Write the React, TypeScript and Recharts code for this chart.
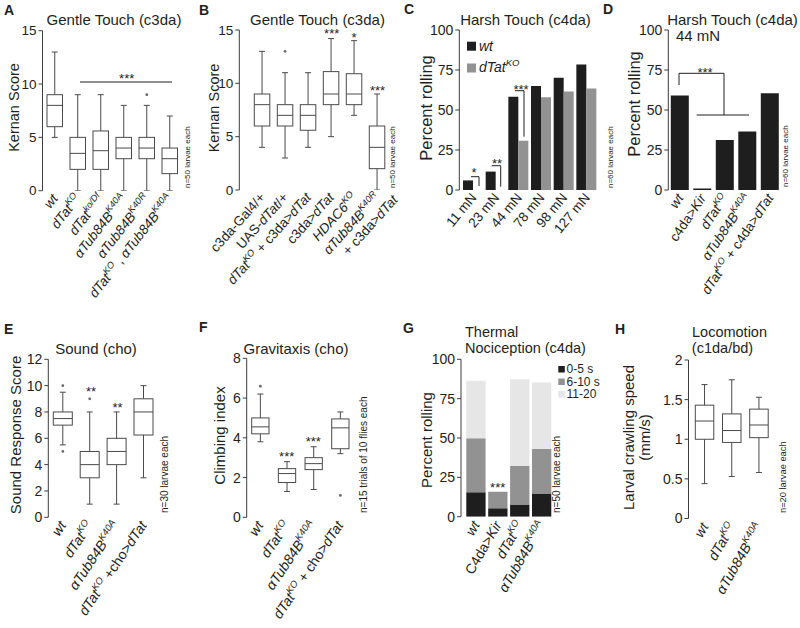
import React from 'react';
import { ComposedChart, BarChart, Bar, XAxis, YAxis } from 'recharts';

const FONT = '"Liberation Sans", Arial, Helvetica, sans-serif';
const INK = '#231f20';
const AXIS = '#3c3c3c';
const BOXC = '#4a4a4a';
const BLACK = '#1e1e1e';
const GRAY = '#929292';
const LIGHT = '#e6e6e6';

// ---------------- data ----------------
// box stats: [min, q1, median, q3, max]
const A_CATS = ['wt', 'dTatKO', 'dTatKO/Df', 'αTub84BK40A', 'αTub84BK40R', 'dTatKO, αTub84BK40A'];
const A_STATS = [[5, 6, 8, 9, 13], [0, 2, 3.5, 5, 9], [0, 2, 3.75, 5.6, 9], [0, 3, 4, 5, 8], [0, 3, 4, 5, 8], [0, 1.6, 3, 4, 7]];
const A_OUT = [[], [], [], [], [9], []];
const KERNAN_TICKS = [0, 5, 10, 15];

const B_CATS = ['c3da-Gal4/+', 'UAS-dTat/+', 'dTatKO + c3da>dTat', 'c3da>dTat', 'HDAC6KO', 'αTub84BK40R + c3da>dTat'];
const B_STATS = [[4, 6, 8, 9, 13], [3, 6, 7, 8, 11], [4, 5.6, 7, 8, 11], [5, 8, 9, 11.1, 14.2], [7, 8, 9, 10.9, 14], [0, 2, 4, 6, 9]];
const B_OUT = [[], [13], [], [], [], []];

const C_CATS = ['11 mN', '23 mN', '44 mN', '78 mN', '98 mN', '127 mN'];
const C_WT = [6, 11.5, 58.3, 65, 70.2, 78.5];
const C_KO = [0, 0, 30.8, 57.9, 61.5, 63.5];
const PCT_TICKS = [0, 25, 50, 75, 100];

const D_CATS = ['wt', 'c4da>Kir', 'dTatKO', 'αTub84BK40A', 'dTatKO + c4da>dTat'];
const D_VALUES = [59, 1, 31.2, 36.5, 60.4];

const E_CATS = ['wt', 'dTatKO', 'αTub84BK40A', 'dTatKO +cho>dTat'];
const E_STATS = [[5.5, 7, 7.5, 8, 9.5], [1, 3, 4, 5, 8], [1, 4, 5, 6, 8], [3, 6.25, 8, 9, 10]];
const E_OUT = [[10, 5], [9], [], []];
const E_TICKS = [0, 2, 4, 6, 8, 10, 12];

const F_CATS = ['wt', 'dTatKO', 'αTub84BK40A', 'dTatKO + cho>dTat'];
const F_STATS = [[3.8, 4.2, 4.55, 5, 6.2], [1.3, 1.75, 2.2, 2.45, 2.8], [1.4, 2.4, 2.7, 3, 3.55], [3.2, 3.45, 4.5, 4.95, 5.3]];
const F_OUT = [[6.6], [], [], [1.1]];
const F_TICKS = [0, 2, 4, 6, 8];

const G_CATS = ['wt', 'C4da>Kir', 'dTatKO', 'αTub84BK40A'];
const G_FAST = [15.5, 5.3, 7.8, 14.8]; // 0-5 s
const G_MID = [34.3, 10.6, 24.6, 28.2]; // 6-10 s
const G_SLOW = [36.6, 0, 54.9, 42.2]; // 11-20 s

const H_CATS = ['wt', 'dTatKO', 'αTub84BK40A'];
const H_STATS = [[0.44, 1, 1.23, 1.43, 1.69], [0.53, 0.96, 1.11, 1.32, 1.75], [0.58, 1.02, 1.18, 1.38, 1.53]];
const H_OUT = [[], [], []];
const H_TICKS = [0, 0.5, 1, 1.5, 2];

// tick label markup: lines -> segments [text, style]; i = italic, n = normal, s = superscript
type Seg = [string, string];
const LABELS: Record<string, Seg[][]> = {
  'wt': [[['wt', 'i']]],
  'dTatKO': [[['dTat', 'i'], ['KO', 's']]],
  'dTatKO/Df': [[['dTat', 'i'], ['ko/Df', 's']]],
  'αTub84BK40A': [[['αTub84B', 'i'], ['K40A', 's']]],
  'αTub84BK40R': [[['αTub84B', 'i'], ['K40R', 's']]],
  'dTatKO, αTub84BK40A': [[['dTat', 'i'], ['KO', 's'], [' , ', 'n'], ['αTub84B', 'i'], ['K40A', 's']]],
  'c3da-Gal4/+': [[['c3da-Gal4/+', 'n']]],
  'UAS-dTat/+': [[['UAS-', 'n'], ['dTat', 'i'], ['/+', 'n']]],
  'dTatKO + c3da>dTat': [[['dTat', 'i'], ['KO', 's'], [' + c3da>', 'n'], ['dTat', 'i']]],
  'c3da>dTat': [[['c3da>', 'n'], ['dTat', 'i']]],
  'HDAC6KO': [[['HDAC6', 'i'], ['KO', 's']]],
  'αTub84BK40R + c3da>dTat': [[['αTub84B', 'i'], ['K40R', 's']], [['+ c3da>', 'n'], ['dTat', 'i']]],
  'c4da>Kir': [[['c4da>', 'n'], ['Kir', 'i']]],
  'C4da>Kir': [[['C4da>', 'n'], ['Kir', 'i']]],
  'dTatKO + c4da>dTat': [[['dTat', 'i'], ['KO', 's'], [' + c4da>', 'n'], ['dTat', 'i']]],
  'dTatKO +cho>dTat': [[['dTat', 'i'], ['KO', 's'], [' +cho>', 'n'], ['dTat', 'i']]],
  'dTatKO + cho>dTat': [[['dTat', 'i'], ['KO', 's'], [' + cho>', 'n'], ['dTat', 'i']]],
};

// ---------------- helpers ----------------
function segSpans(segs: Seg[], fs: number) {
  const out: any[] = [];
  let raised = false;
  const shift = fs * 0.4;
  segs.forEach((s, i) => {
    const [t, st] = s;
    if (st === 's') {
      out.push(
        <tspan key={i} fontSize={fs * 0.68} fontStyle="italic" dy={raised ? 0 : -shift}>{t}</tspan>
      );
      raised = true;
    } else {
      out.push(
        <tspan key={i} fontStyle={st === 'i' ? 'italic' : 'normal'} dy={raised ? shift : 0}>{t}</tspan>
      );
      raised = false;
    }
  });
  return out;
}

const makeTick = (angle: number, fs: number, dx: number, dy: number) => (p: any) => {
  const v = String(p.payload.value);
  const lines = LABELS[v] ?? [[[v, 'n']]];
  return (
    <g transform={`translate(${p.x + dx},${p.y + dy}) rotate(${angle})`}>
      {lines.map((segs, li) => (
        <text key={li} x={li * 10} y={li * fs * 1.1} textAnchor="end" fontSize={fs} fontFamily={FONT} fill={INK} style={{ whiteSpace: 'pre' }}>
          {segSpans(segs, fs)}
        </text>
      ))}
    </g>
  );
};

function BoxShape(props: any) {
  const { x, y, width, height, index, rows, cap } = props;
  const d = rows[index];
  if (!d) return null;
  const top = Math.min(y, y + height);
  const bot = Math.max(y, y + height);
  const span = d.max - d.min || 1;
  const py = (v: number) => bot - ((v - d.min) / span) * (bot - top);
  const cx = x + width / 2;
  return (
    <g stroke={BOXC} strokeWidth={1} fill="none">
      <line x1={cx} x2={cx} y1={py(d.max)} y2={py(d.q3)} />
      <line x1={cx} x2={cx} y1={py(d.q1)} y2={py(d.min)} />
      <line x1={cx - cap} x2={cx + cap} y1={py(d.max)} y2={py(d.max)} />
      <line x1={cx - cap} x2={cx + cap} y1={py(d.min)} y2={py(d.min)} />
      <rect x={x} y={py(d.q3)} width={width} height={py(d.q1) - py(d.q3)} fill="#fff" />
      <line x1={x} x2={x + width} y1={py(d.med)} y2={py(d.med)} />
      {d.out.map((v: number, i: number) => (
        <circle key={i} cx={cx} cy={py(v)} r={1.4} fill="#6a6a6a" stroke="none" />
      ))}
    </g>
  );
}

type Frame = {
  left: number; top: number; width: number; height: number;
  axisX: number; yTop: number; y0: number; padL: number; band: number;
  n: number; angle: number; xfs: number; yfs: number;
};

function axesFor(f: Frame, domain: number[], ticks: number[]) {
  const plotRight = f.axisX + f.padL + f.n * f.band;
  const margin = { top: f.yTop - f.top, right: f.left + f.width - plotRight, bottom: 0, left: 0 };
  const xAxis = (
    <XAxis
      dataKey="name"
      type="category"
      axisLine={false}
      tickLine={false}
      tickSize={0}
      tickMargin={0}
      interval={0}
      height={f.top + f.height - f.y0}
      padding={{ left: f.padL, right: 0 }}
      tick={makeTick(f.angle, f.xfs, 4, 8)}
    />
  );
  const yAxis = (
    <YAxis
      type="number"
      domain={domain}
      ticks={ticks}
      interval={0}
      allowDataOverflow
      width={f.axisX - f.left}
      axisLine={{ stroke: AXIS, strokeWidth: 1 }}
      tickLine={{ stroke: AXIS, strokeWidth: 1 }}
      tickSize={4}
      tickMargin={2}
      tick={{ fontSize: f.yfs, fill: INK, fontFamily: FONT }}
    />
  );
  return { margin, xAxis, yAxis };
}

function BoxPanel(props: { f: Frame; cats: string[]; stats: number[][]; outliers: number[][]; domain: number[]; ticks: number[]; boxW: number }) {
  const { f, cats, stats, outliers, domain, ticks, boxW } = props;
  const rows = cats.map((name, i) => {
    const [min, q1, med, q3, max] = stats[i];
    return { name, min, q1, med, q3, max, out: outliers[i] || [] };
  });
  const { margin, xAxis, yAxis } = axesFor(f, domain, ticks);
  return (
    <div style={{ position: 'absolute', left: f.left, top: f.top }}>
      <ComposedChart width={f.width} height={f.height} data={rows} margin={margin}>
        {xAxis}
        {yAxis}
        <Bar
          dataKey={(d: any) => [d.min, d.max]}
          barSize={boxW}
          isAnimationActive={false}
          shape={(sp: any) => <BoxShape {...sp} rows={rows} cap={3} />}
        />
      </ComposedChart>
    </div>
  );
}

function PanelC() {
  const f: Frame = { left: 400, top: 0, width: 200, height: 303, axisX: 459.3, yTop: 30, y0: 190, padL: 2.7, band: 22.67, n: 6, angle: -50, xfs: 13.5, yfs: 14 };
  const rows = C_CATS.map((name, i) => ({ name, wt: C_WT[i], ko: C_KO[i] }));
  const { margin, xAxis, yAxis } = axesFor(f, [0, 100], PCT_TICKS);
  return (
    <div style={{ position: 'absolute', left: f.left, top: f.top }}>
      <BarChart width={f.width} height={f.height} data={rows} margin={margin} barGap={0}>
        {xAxis}
        {yAxis}
        <Bar dataKey="wt" fill={BLACK} barSize={10} isAnimationActive={false} />
        <Bar dataKey="ko" fill={GRAY} barSize={10} isAnimationActive={false} />
      </BarChart>
    </div>
  );
}

function PanelD() {
  const f: Frame = { left: 600, top: 0, width: 200, height: 303, axisX: 668.3, yTop: 30, y0: 190, padL: 0.5, band: 22.5, n: 5, angle: -56, xfs: 13.5, yfs: 14 };
  const rows = D_CATS.map((name, i) => ({ name, v: D_VALUES[i] }));
  const { margin, xAxis, yAxis } = axesFor(f, [0, 100], PCT_TICKS);
  return (
    <div style={{ position: 'absolute', left: f.left, top: f.top }}>
      <BarChart width={f.width} height={f.height} data={rows} margin={margin}>
        {xAxis}
        {yAxis}
        <Bar dataKey="v" fill={BLACK} barSize={18} isAnimationActive={false} />
      </BarChart>
    </div>
  );
}

function PanelG() {
  const f: Frame = { left: 400, top: 310, width: 200, height: 318, axisX: 461, yTop: 359.3, y0: 516.7, padL: 4.3, band: 21.9, n: 4, angle: -60, xfs: 14, yfs: 14 };
  const rows = G_CATS.map((name, i) => ({ name, a: G_FAST[i], b: G_MID[i], c: G_SLOW[i] }));
  const { margin, xAxis, yAxis } = axesFor(f, [0, 100], PCT_TICKS);
  return (
    <div style={{ position: 'absolute', left: f.left, top: f.top }}>
      <BarChart width={f.width} height={f.height} data={rows} margin={margin}>
        {xAxis}
        {yAxis}
        <Bar dataKey="a" stackId="s" fill={BLACK} barSize={19.3} isAnimationActive={false} />
        <Bar dataKey="b" stackId="s" fill={GRAY} barSize={19.3} isAnimationActive={false} />
        <Bar dataKey="c" stackId="s" fill={LIGHT} barSize={19.3} isAnimationActive={false} />
      </BarChart>
    </div>
  );
}

// ---------------- overlay text helpers ----------------
const YLab = ({ x, y, t, fs = 15 }: { x: number; y: number; t: string; fs?: number }) => (
  <text transform={`translate(${x},${y}) rotate(-90)`} textAnchor="middle" fontSize={fs} fill={INK}>{t}</text>
);
const NLab = ({ x, y, t, fs = 10 }: { x: number; y: number; t: string; fs?: number }) => (
  <text transform={`translate(${x},${y}) rotate(-90)`} textAnchor="start" fontSize={fs} fill={INK}>{t}</text>
);
const Stars = ({ x, y, t }: { x: number; y: number; t: string }) => (
  <text x={x} y={y} textAnchor="middle" fontSize={13} fill={INK}>{t}</text>
);
const Title = ({ x, y, t, anchor = 'middle', fs = 15 }: { x: number; y: number; t: string; anchor?: string; fs?: number }) => (
  <text x={x} y={y} textAnchor={anchor as any} fontSize={fs} fill={INK}>{t}</text>
);
const Letter = ({ x, y, t }: { x: number; y: number; t: string }) => (
  <text x={x} y={y} fontSize={14} fontWeight="bold" fill={INK}>{t}</text>
);

function Overlay() {
  return (
    <svg width={800} height={628} style={{ position: 'absolute', left: 0, top: 0, pointerEvents: 'none' }} fontFamily={FONT}>
      <defs>
        <clipPath id="gclip"><rect x={400} y={300} width={200} height={200} /></clipPath>
      </defs>
      {/* panel letters */}
      <Letter x={4} y={15} t="A" />
      <Letter x={199} y={15} t="B" />
      <Letter x={404} y={14} t="C" />
      <Letter x={603} y={14} t="D" />
      <Letter x={4} y={334} t="E" />
      <Letter x={199} y={332} t="F" />
      <Letter x={403} y={333} t="G" />
      <Letter x={615} y={334} t="H" />

      {/* titles */}
      <Title x={114} y={24.5} t="Gentle Touch (c3da)" />
      <Title x={317.5} y={24.5} t="Gentle Touch (c3da)" />
      <Title x={525.5} y={25} t="Harsh Touch (c4da)" />
      <Title x={732.5} y={25} t="Harsh Touch (c4da)" />
      <Title x={698} y={40.5} t="44 mN" />
      <Title x={96} y={354} t="Sound (cho)" />
      <Title x={296} y={354} t="Gravitaxis (cho)" />
      <Title x={465} y={337} t="Thermal" anchor="start" fs={14.5} />
      <Title x={465} y={353} t="Nociception (c4da)" anchor="start" fs={14.5} />
      <Title x={729.5} y={337} t="Locomotion" fs={14.5} />
      <Title x={722.5} y={353} t="(c1da/bd)" fs={14.5} />

      {/* y axis labels */}
      <YLab x={19} y={107.5} t="Kernan Score" fs={14.5} />
      <YLab x={219} y={108} t="Kernan Score" fs={14.5} />
      <YLab x={431.5} y={108} t="Percent rolling" fs={16.5} />
      <YLab x={640} y={104} t="Percent rolling" fs={16.5} />
      <YLab x={20.5} y={435} t="Sound Response Score" />
      <YLab x={225} y={435.5} t="Climbing index" />
      <YLab x={431.5} y={440} t="Percent rolling" />
      <YLab x={634} y={437.5} t="Larval crawling speed" />
      <YLab x={650} y={437.5} t="(mm/s)" />

      {/* n= labels */}
      <NLab x={190} y={188} t="n=50 larvae each" fs={8} />
      <NLab x={395} y={188} t="n=50 larvae each" fs={8} />
      <NLab x={613} y={188} t="n=60 larvae each" fs={8} />
      <NLab x={788} y={187} t="n=60 larvae each" fs={8} />
      <NLab x={168} y={513} t="n=30 larvae each" fs={10} />
      <NLab x={366.5} y={513} t="n=15 trials of 10 flies each" fs={10} />
      <NLab x={560} y={513} t="n=50 larvae each" fs={10} />
      <NLab x={786} y={513} t="n=20 larvae each" fs={9.3} />

      {/* significance */}
      <g stroke={INK} strokeWidth={1} fill="none">
        <line x1={80} x2={172} y1={82} y2={82} />
        <path d="M471,176.7 H479 V186" />
        <path d="M491.7,165.7 H500.7 V186.7" />
        <path d="M515,90.7 H524 V136.7" />
        <path d="M679,85 V73.3 H724 V115" />
        <path d="M696.7,115 H749" />
      </g>
      <Stars x={126.7} y={83} t="***" />
      <Stars x={331.7} y={38} t="***" />
      <Stars x={354} y={42} t="*" />
      <Stars x={377.5} y={94.5} t="***" />
      <Stars x={474} y={177} t="*" />
      <Stars x={497} y={168} t="**" />
      <Stars x={521} y={94} t="***" />
      <Stars x={705} y={77} t="***" />
      <Stars x={91} y={395.5} t="**" />
      <Stars x={117.5} y={412} t="**" />
      <Stars x={286.7} y={460.5} t="***" />
      <Stars x={313.3} y={445.5} t="***" />
      <Stars x={497.7} y={492} t="***" />

      {/* legend C */}
      <rect x={467} y={41.7} width={9} height={9} fill={BLACK} />
      <text x={479} y={50.5} fontSize={14} fontStyle="italic" fill={INK}>wt</text>
      <rect x={467} y={63.5} width={9} height={9} fill={GRAY} />
      <text x={479} y={72} fontSize={14} fill={INK}>{segSpans([['dTat', 'i'], ['KO', 's']], 14)}</text>

      {/* legend G */}
      <g clipPath="url(#gclip)">
        <rect x={558.3} y={366} width={6.5} height={6.5} fill={BLACK} />
        <text x={566.5} y={373} fontSize={12} fill={INK}>0-5 s</text>
        <rect x={558.3} y={378.5} width={6.5} height={6.5} fill={GRAY} />
        <text x={566.5} y={385.5} fontSize={12} fill={INK}>6-10 s</text>
        <rect x={558.3} y={391} width={6.5} height={6.5} fill={LIGHT} />
        <text x={566.5} y={398} fontSize={12} fill={INK}>11-20 s</text>
      </g>
    </svg>
  );
}

const FA: Frame = { left: 0, top: 0, width: 200, height: 303, axisX: 42.5, yTop: 30.7, y0: 190.7, padL: 0.5, band: 23, n: 6, angle: -52, xfs: 13.5, yfs: 13.5 };
const FB: Frame = { left: 195, top: 0, width: 205, height: 303, axisX: 239.3, yTop: 30, y0: 190, padL: 11, band: 23, n: 6, angle: -48, xfs: 13.5, yfs: 13.5 };
const FE: Frame = { left: 0, top: 310, width: 195, height: 318, axisX: 48.3, yTop: 359.3, y0: 517.3, padL: 1, band: 26.9, n: 4, angle: -56, xfs: 14, yfs: 14 };
const FF: Frame = { left: 195, top: 310, width: 205, height: 318, axisX: 246.7, yTop: 358.3, y0: 517.3, padL: 0, band: 26.67, n: 4, angle: -56, xfs: 14, yfs: 14 };
const FH: Frame = { left: 600, top: 310, width: 200, height: 318, axisX: 688.5, yTop: 360, y0: 518.5, padL: 2.8, band: 27.2, n: 3, angle: -60, xfs: 14, yfs: 14 };

export default function App() {
  return (
    <div style={{ position: 'absolute', left: 0, top: 0, width: 800, height: 628, background: '#fff', overflow: 'hidden', fontFamily: FONT }}>
      <BoxPanel f={FA} cats={A_CATS} stats={A_STATS} outliers={A_OUT} domain={[0, 15]} ticks={KERNAN_TICKS} boxW={15.5} />
      <BoxPanel f={FB} cats={B_CATS} stats={B_STATS} outliers={B_OUT} domain={[0, 15]} ticks={KERNAN_TICKS} boxW={15.5} />
      <PanelC />
      <PanelD />
      <BoxPanel f={FE} cats={E_CATS} stats={E_STATS} outliers={E_OUT} domain={[0, 12]} ticks={E_TICKS} boxW={19} />
      <BoxPanel f={FF} cats={F_CATS} stats={F_STATS} outliers={F_OUT} domain={[0, 8]} ticks={F_TICKS} boxW={17.3} />
      <PanelG />
      <BoxPanel f={FH} cats={H_CATS} stats={H_STATS} outliers={H_OUT} domain={[0, 2]} ticks={H_TICKS} boxW={18.5} />
      <Overlay />
    </div>
  );
}
